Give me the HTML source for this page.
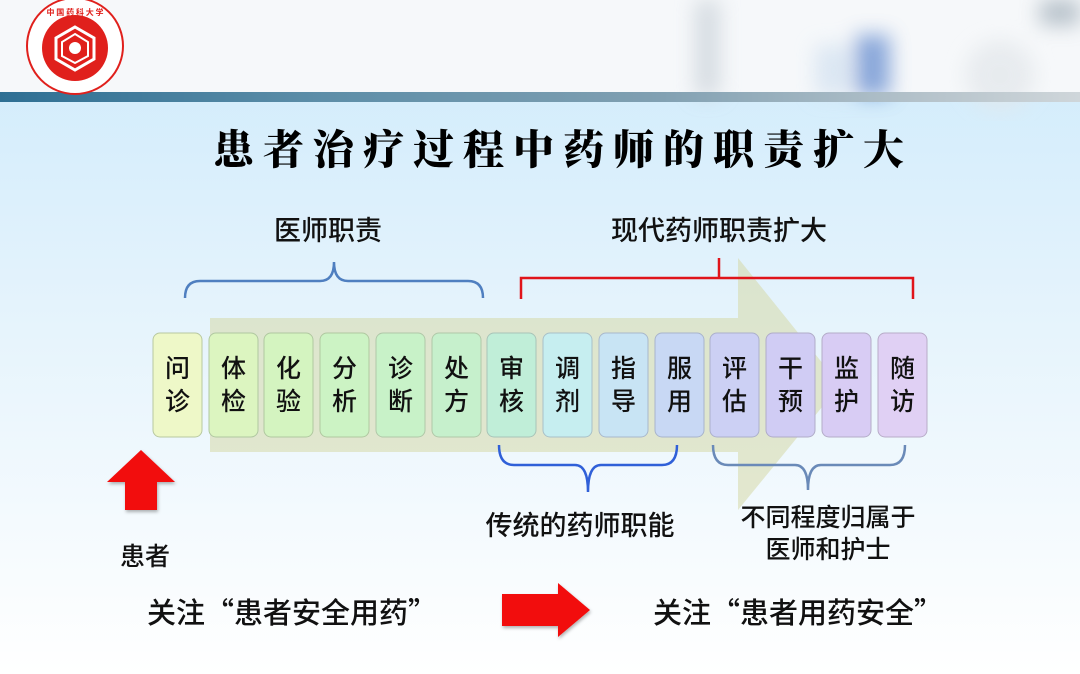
<!DOCTYPE html>
<html><head><meta charset="utf-8"><style>
body{margin:0;width:1080px;height:674px;overflow:hidden;font-family:"Noto Sans CJK SC","Liberation Sans",sans-serif;}
</style></head><body>
<svg width="1080" height="674" xmlns="http://www.w3.org/2000/svg" style="display:block">
<defs>
<linearGradient id="bg" x1="0" y1="0" x2="0" y2="1">
<stop offset="0" stop-color="#cdeafb"/><stop offset="0.45" stop-color="#e4f3fc"/><stop offset="1" stop-color="#ffffff"/>
</linearGradient>
<linearGradient id="band" x1="0" y1="0" x2="1" y2="0">
<stop offset="0" stop-color="#2e6f93"/><stop offset="0.3" stop-color="#5d8ea8"/><stop offset="0.6" stop-color="#7f9fb1"/><stop offset="0.85" stop-color="#b4c2ca"/><stop offset="1" stop-color="#cfd6da"/>
</linearGradient>
<filter id="bl"><feGaussianBlur stdDeviation="10"/></filter>
<filter id="sh"><feDropShadow dx="1" dy="2" stdDeviation="1.5" flood-opacity="0.3"/></filter>
</defs>
<rect width="1080" height="674" fill="url(#bg)"/>
<rect width="1080" height="96" fill="#f6f8fa"/>
<g filter="url(#bl)" opacity="0.7">
<rect x="695" y="0" width="25" height="96" fill="#c8d0d8"/>
<rect x="855" y="35" width="35" height="61" fill="#5a84cc"/>
<rect x="815" y="45" width="35" height="51" fill="#d0e0f0"/>
<rect x="1040" y="0" width="40" height="25" fill="#9aa8b4"/>
<ellipse cx="1000" cy="75" rx="35" ry="35" fill="#e2e6ea"/>
</g>
<rect x="0" y="92" width="1080" height="10" fill="url(#band)"/>
<!-- logo -->
<circle cx="75" cy="46" r="48" fill="#fff" stroke="#e0201c" stroke-width="2"/>
<circle cx="75" cy="48" r="33" fill="#e0201c"/>
<path d="M75 27 L94 38 L94 59 L75 70 L56 59 L56 38Z" fill="none" stroke="#fff" stroke-width="3"/>
<path d="M75 34 L88 42 L88 56 L75 63 L62 56 L62 42Z" fill="none" stroke="#fff" stroke-width="2"/>
<circle cx="75" cy="48" r="6" fill="#fff"/>
<text x="75" y="15" font-size="8" text-anchor="middle" fill="#e0201c" font-weight="bold">中 国 药 科 大 学</text>
<!-- title -->
<text x="563" y="164" font-size="41" text-anchor="middle" font-weight="900" letter-spacing="9" font-family="'Noto Serif CJK SC','WenQuanYi Zen Hei',serif" fill="#000">患者治疗过程中药师的职责扩大</text>
<!-- big arrow -->
<path d="M210 318 L738 318 L738 258 L840 385 L738 510 L738 452 L210 452Z" fill="#d6d8a8" opacity="0.55"/>
<!-- braces -->
<path d="M185 298 Q185 281 200 281 L320 281 Q334 281 334 262 Q334 281 348 281 L468 281 Q483 281 483 298" fill="none" stroke="#4f7fc0" stroke-width="2.5"/>
<path d="M521 299 L521 278 L913 278 L913 299 M719 278 L719 258" fill="none" stroke="#e0141a" stroke-width="2.5"/>
<path d="M499 445 Q499 465 514 465 L575 465 Q588 465 588 492 Q588 465 601 465 L662 465 Q677 465 677 445" fill="none" stroke="#3060d8" stroke-width="2.5"/>
<path d="M713 445 Q713 465 728 465 L795 465 Q808 465 808 490 Q808 465 821 465 L890 465 Q905 465 905 445" fill="none" stroke="#6a8ab8" stroke-width="2.5"/>
<!-- boxes -->
<g font-size="25" text-anchor="middle" fill="#111" font-weight="500">
<rect x="153" y="333" width="49" height="104" rx="7" fill="#eef8c8" stroke="#b8c8a0"/><text x="177.5" y="377">问</text><text x="177.5" y="410">诊</text>
<rect x="209" y="333" width="49" height="104" rx="7" fill="#dcf5c0" stroke="#b0c8a0"/><text x="233.5" y="377">体</text><text x="233.5" y="410">检</text>
<rect x="264" y="333" width="49" height="104" rx="7" fill="#d4f4c0" stroke="#b0c8a0"/><text x="288.5" y="377">化</text><text x="288.5" y="410">验</text>
<rect x="320" y="333" width="49" height="104" rx="7" fill="#ccf3c4" stroke="#b0c8a0"/><text x="344.5" y="377">分</text><text x="344.5" y="410">析</text>
<rect x="376" y="333" width="49" height="104" rx="7" fill="#c8f2c8" stroke="#b0c8a8"/><text x="400.5" y="377">诊</text><text x="400.5" y="410">断</text>
<rect x="432" y="333" width="49" height="104" rx="7" fill="#c6f0cc" stroke="#b0c8a8"/><text x="456.5" y="377">处</text><text x="456.5" y="410">方</text>
<rect x="487" y="333" width="49" height="104" rx="7" fill="#c0eed8" stroke="#a8c4b8"/><text x="511.5" y="377">审</text><text x="511.5" y="410">核</text>
<rect x="543" y="333" width="49" height="104" rx="7" fill="#c6eef0" stroke="#a8c0c8"/><text x="567.5" y="377">调</text><text x="567.5" y="410">剂</text>
<rect x="599" y="333" width="49" height="104" rx="7" fill="#c8e4f4" stroke="#a8b8cc"/><text x="623.5" y="377">指</text><text x="623.5" y="410">导</text>
<rect x="655" y="333" width="49" height="104" rx="7" fill="#c8d8f4" stroke="#a8b4cc"/><text x="679.5" y="377">服</text><text x="679.5" y="410">用</text>
<rect x="710" y="333" width="49" height="104" rx="7" fill="#ccd0f4" stroke="#acb0cc"/><text x="734.5" y="377">评</text><text x="734.5" y="410">估</text>
<rect x="766" y="333" width="49" height="104" rx="7" fill="#d0ccf4" stroke="#b0acc8"/><text x="790.5" y="377">干</text><text x="790.5" y="410">预</text>
<rect x="822" y="333" width="49" height="104" rx="7" fill="#d8ccf4" stroke="#b4acc8"/><text x="846.5" y="377">监</text><text x="846.5" y="410">护</text>
<rect x="878" y="333" width="49" height="104" rx="7" fill="#e0d0f4" stroke="#b8acc8"/><text x="902.5" y="377">随</text><text x="902.5" y="410">访</text>
</g>
<!-- red arrows -->
<path d="M107 482 L141 450 L175 482 L157 482 L157 510 L125 510 L125 482Z" fill="#f20a0a" filter="url(#sh)"/>
<path d="M502 594 L558 594 L558 583 L590 610 L558 637 L558 626 L502 626Z" fill="#f20a0a" filter="url(#sh)"/>
<!-- labels -->
<g font-size="27" fill="#111" text-anchor="middle" font-weight="500">
<text x="328" y="240">医师职责</text>
<text x="719" y="240">现代药师职责扩大</text>
<text x="580" y="535">传统的药师职能</text>
<text x="828" y="526" font-size="25">不同程度归属于</text>
<text x="828" y="558" font-size="25">医师和护士</text>
<text x="145" y="565" font-size="25">患者</text>
<text x="292" y="623" font-size="29">关注“患者安全用药”</text>
<text x="798" y="623" font-size="29">关注“患者用药安全”</text>
</g>
</svg>
</body></html>
